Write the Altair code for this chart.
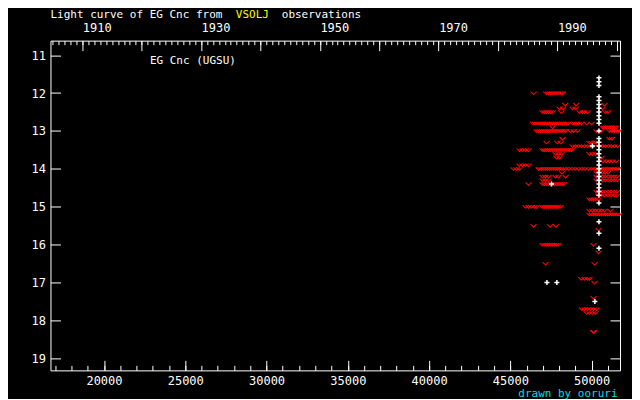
import altair as alt
import pandas as pd

# ---------------- data (JD - 2400000, magnitude) ----------------
# "fainter than" observations (red v marks), grouped by magnitude row
lim_rows = {
    12.0: [46430, 47210, 47330, 47450, 47570, 47690, 47810, 47930, 48050, 48170, 48230],
    12.3: [48380, 49050, 50790],
    12.4: [48030, 48250, 48830, 49010, 50670],
    12.5: [46980, 47100, 47220, 47350, 47470, 47600, 48140, 49260, 49440, 49560, 49750, 50850, 51000],
    12.8: [46400, 46520, 46640, 46760, 46880, 47000, 47120, 47240, 47360, 47480, 47600, 47720,
           47840, 47960, 48080, 48200, 48320, 48440, 48550, 48830, 48950, 49070, 49190, 49380,
           49690, 49990],
    12.9: [47600, 50670, 50790, 50910, 51030, 51150, 51270, 51400, 51520],
    13.0: [46610, 46730, 46850, 46970, 47090, 47210, 47330, 47450, 47570, 47690, 47810, 47930,
           48050, 48170, 48290, 48410, 48700, 48900, 49130, 50300, 50560, 51100, 51250, 51400,
           51560, 51680],
    13.2: [48210, 51100, 51250],
    13.3: [47230, 47900, 48100, 49870, 50000, 50180, 50300],
    13.4: [48830, 49010, 49200, 49380, 49560, 49750, 49930, 50120, 50490, 50670, 50850, 51030,
           51220, 51400, 51580],
    13.5: [45570, 45750, 45940, 46120, 46980, 47100, 47220, 47340, 47460, 47580, 47700, 47820,
           47940, 48060, 48180, 48300, 48420, 48540, 48660, 48770],
    13.6: [47780, 47960, 48150, 49870, 50050, 50250],
    13.7: [47840, 48030, 50600],
    13.8: [50700, 50900, 51100, 51300, 51500],
    13.9: [45570, 45750, 45940, 46120],
    14.0: [45200, 45380, 45560, 46740, 46800, 46920, 47040, 47160, 47280, 47400, 47520, 47640,
           47760, 47880, 48000, 48120, 48240, 48400, 48600, 48800, 49000, 49200, 49400, 49600,
           49800, 50000, 50180, 50300, 50420, 50540, 50660, 50780, 50900, 51020, 51140, 51260,
           51380, 51500, 51620],
    14.1: [48180, 50300, 50480, 50660, 50840, 51000],
    14.2: [46980, 47160, 47350, 47780, 47960, 48400, 50300, 50480, 50660, 50840, 51020, 51200,
           51380, 51560],
    14.3: [46980, 47160, 47350, 50300, 50480, 50660, 50840, 51020, 51200, 51380, 51560],
    14.4: [46120, 46980, 47100, 47220, 47340, 47460, 47580, 47700, 47820, 47940, 48060, 48180, 48300],
    14.6: [50300, 50480, 50660, 50840, 51020, 51200, 51380, 51560],
    14.7: [50420, 50600, 50780, 51000, 51200, 51400, 51560],
    14.8: [49870, 50000, 50120, 50240, 50400],
    15.0: [45940, 46120, 46300, 46480, 46610, 46980, 47100, 47220, 47340, 47460, 47580, 47700,
           47820, 47940, 48090],
    15.1: [49870, 50050, 50240, 50420, 50600, 50790, 51160],
    15.2: [49870, 50000, 50120, 50240, 50360, 50490, 50610, 50730, 50850, 50970, 51100, 51220,
           51340, 51460, 51580, 51700],
    15.5: [46430, 47450, 47800],
    15.6: [50420],
    16.0: [46980, 47100, 47220, 47340, 47460, 47580, 47700, 47820, 47940, 50120],
    16.2: [50420],
    16.5: [47170, 50180],
    16.9: [49370, 49560, 49750, 49870],
    17.0: [50180],
    17.4: [50120],
    17.7: [49400, 49560, 49750, 49930, 50120, 50300],
    17.8: [49690, 49880, 50060, 50240],
    18.3: [50100, 50140],
}
lim_jd = [jd for m, jds in lim_rows.items() for jd in jds]
lim_mag = [m for m, jds in lim_rows.items() for jd in jds]

# positive observations (white + marks)
pos_jd = [50450] * 32 + [50050, 47530, 47250, 47860, 50200]
pos_mag = [11.6, 11.7, 11.8, 12.1, 12.2, 12.3, 12.4, 12.5, 12.6, 12.7, 12.8, 13.0, 13.2, 13.3,
           13.4, 13.5, 13.6, 13.7, 13.8, 13.9, 14.0, 14.1, 14.2, 14.3, 14.4, 14.5, 14.6, 14.7,
           14.9, 15.4, 15.7, 16.1,
           13.4, 14.4, 17.0, 17.0, 17.5]

# ---------------- axes ----------------
x_domain = [16710, 51745]
y_domain = [10.617, 19.32]
x_major = [20000, 25000, 30000, 35000, 40000, 45000, 50000]
x_minor = list(range(17000, 52000, 1000))
y_ticks = [11, 12, 13, 14, 15, 16, 17, 18, 19]
year_major = list(range(1910, 2001, 10))
year_minor = list(range(1905, 2001))
year_labels = [1910, 1930, 1950, 1970, 1990]


def jd_to_year(jd):
    return 2000 + (jd - 51545) / 365.25


year_domain = [jd_to_year(x_domain[0]), jd_to_year(x_domain[1])]

FONT = "DejaVu Sans Mono"
lim = pd.DataFrame({"jd": lim_jd, "mag": lim_mag})
pos = pd.DataFrame({"jd": pos_jd, "mag": pos_mag})

xs = alt.Scale(domain=x_domain, nice=False, zero=False)
ys = alt.Scale(domain=y_domain, reverse=True, nice=False, zero=False)
yrs = alt.Scale(domain=year_domain, nice=False, zero=False)

V_PATH = "M-1,-0.5L0,0.5L1,-0.5"
P_PATH = "M-1,0L1,0M0,-1L0,1"

layer_lim = alt.Chart(lim).mark_point(
    shape=V_PATH, filled=False, color="#ff0000", strokeWidth=1.1, size=36, opacity=1
).encode(
    x=alt.X("jd:Q", scale=xs, title=None,
            axis=alt.Axis(orient="bottom", values=x_major, format="d", offset=-10, tickSize=10,
                          labelPadding=5, labelFlush=False)),
    y=alt.Y("mag:Q", scale=ys, title=None,
            axis=alt.Axis(orient="left", values=y_ticks, format="d", offset=-10, tickSize=10,
                          labelPadding=5, labelFlush=False)),
)

layer_pos = alt.Chart(pos).mark_point(
    shape=P_PATH, filled=False, color="#ffffff", strokeWidth=1.5, size=25, opacity=1
).encode(
    x=alt.X("jd:Q", scale=xs, title=None,
            axis=alt.Axis(orient="bottom", values=x_minor, offset=-5, tickSize=5, labels=False)),
    y=alt.Y("mag:Q", scale=ys, title=None,
            axis=alt.Axis(orient="right", values=y_ticks, offset=-10, tickSize=10, labels=False)),
)

label_expr = "indexof(" + str(year_labels) + ", datum.value) >= 0 ? format(datum.value, 'd') : ''"

layer_year = alt.Chart(lim).transform_calculate(
    year="2000 + (datum.jd - 51545) / 365.25"
).mark_point(opacity=0).encode(
    x=alt.X("year:Q", scale=yrs, title=None,
            axis=alt.Axis(orient="top", values=year_major, offset=-10, tickSize=10,
                          labelExpr=label_expr, labelAlign="left", labelPadding=6,
                          labelFlush=False)),
    y=alt.Y("mag:Q", scale=ys, axis=None),
)

layer_year_minor = alt.Chart(lim).transform_calculate(
    year="2000 + (datum.jd - 51545) / 365.25"
).mark_point(opacity=0).encode(
    x=alt.X("year:Q", scale=yrs, title=None,
            axis=alt.Axis(orient="top", values=year_minor, offset=-4, tickSize=4, labels=False)),
    y=alt.Y("mag:Q", scale=ys, axis=None),
)


def text_layer(t, x, y, color, align="left"):
    return alt.Chart(pd.DataFrame({"t": [t]})).mark_text(
        font=FONT, fontSize=11, align=align, baseline="alphabetic", color=color
    ).encode(x=alt.value(x), y=alt.value(y), text="t:N")


texts = [
    text_layer("Light curve of EG Cnc from", 0, -23, "#ffffff"),
    text_layer("VSOLJ", 185.5, -23, "#ffff00"),
    text_layer("observations", 231.5, -23, "#ffffff"),
    text_layer("EG Cnc (UGSU)", 99.5, 23.5, "#ffffff"),
    text_layer("drawn by ooruri", 567.5, 356.5, "#00dcea", align="right"),
]

chart = alt.layer(
    layer_year_minor, layer_year, layer_lim, layer_pos, *texts
).resolve_scale(
    x="independent", y="independent"
).resolve_axis(
    x="independent", y="independent"
).properties(
    width=570,
    height=330,
    background="black",
    padding={"left": 42.5, "top": 32.5, "right": 12, "bottom": 28},
    autosize=alt.AutoSizeParams(type="none"),
).configure_view(
    stroke="white", strokeWidth=1, fill="black"
).configure_axis(
    domain=False, grid=False, tickColor="white", tickWidth=1, labelColor="white",
    labelFont=FONT, labelFontSize=12, title=None
)

chart.save("out.html", embed_options={"renderer": "svg", "actions": False})
